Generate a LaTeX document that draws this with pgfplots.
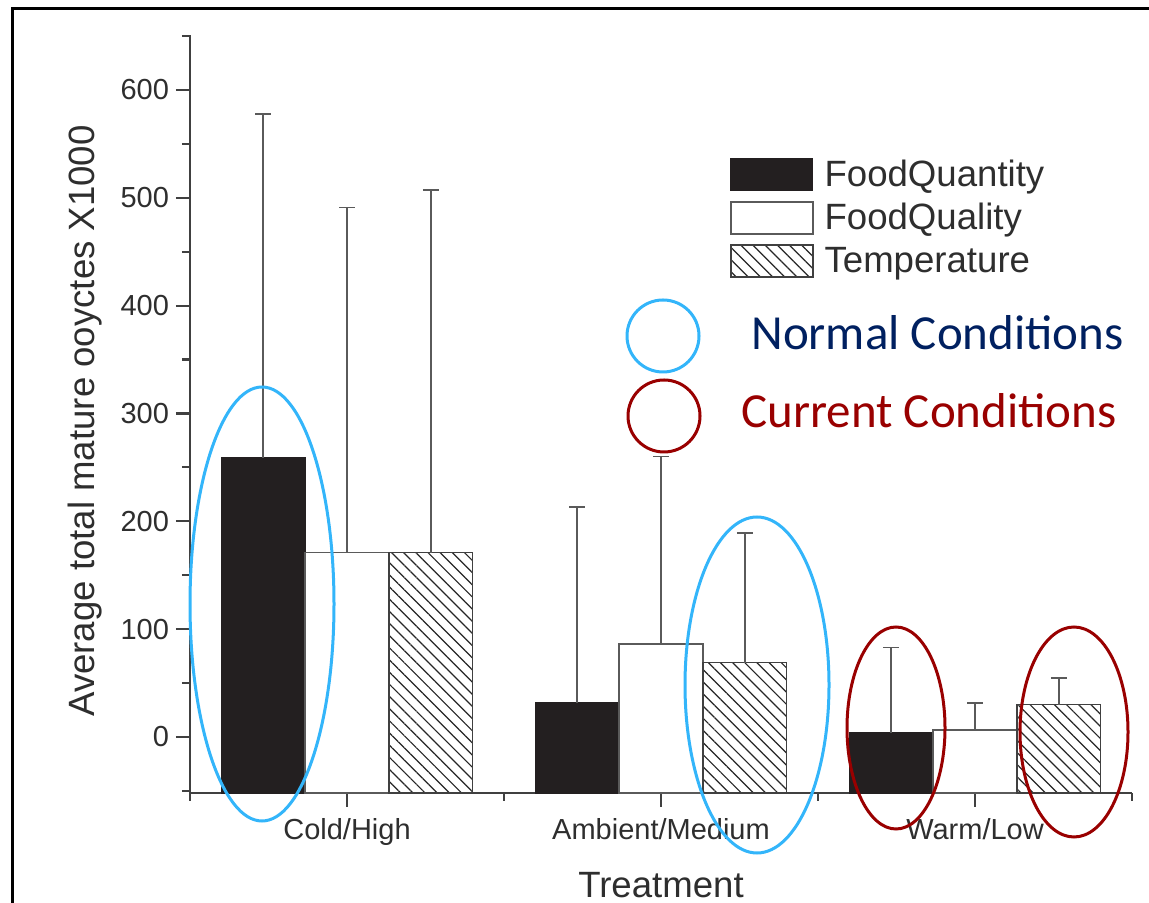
\documentclass[border=0pt]{standalone}
\usepackage{fontspec}
\setmainfont{Liberation Sans}
\newfontfamily\calibri{Carlito}
\usepackage{pgfplots}
\pgfplotsset{compat=1.18}
\usetikzlibrary{patterns.meta}
\definecolor{axgray}{HTML}{404040}
\definecolor{errgray}{HTML}{5A5A5A}
\definecolor{barblack}{HTML}{231F20}
\definecolor{ellblue}{HTML}{33B5FA}
\definecolor{ellred}{HTML}{990000}
\definecolor{navy}{HTML}{002060}
\definecolor{txtgray}{HTML}{2E2E2E}
\begin{document}
\begin{tikzpicture}
\useasboundingbox (0,0) rectangle (574.5pt,451.5pt);
\begin{axis}[
  at={(95pt,55pt)}, anchor=south west,
  scale only axis, width=471pt, height=379pt,
  y coord trafo/.code={\pgfmathparse{#1+52}},
  y coord inv trafo/.code={\pgfmathparse{#1-52}},
  xmin=0.5, xmax=3.5, ymin=-52, ymax=651,
  axis x line*=bottom, axis y line*=left,
  axis line style={axgray, line width=1.1pt},
  ybar=0pt, bar width=0.267,
  xtick={1,2,3}, xticklabels={Cold/High,Ambient/Medium,Warm/Low},
  minor xtick={0.5,1.5,2.5,3.5},
  ytick={0,100,200,300,400,500,600},
  yticklabels={0,100,200,300,400,500,600},
  minor ytick={-50,50,150,250,350,450,550,650},
  tick align=outside,
  major tick length=7pt, minor tick length=4pt,
  every tick/.style={axgray, line width=1.1pt},
  tick label style={font=\fontsize{14.5}{16}\selectfont, text=txtgray},
  xticklabel style={yshift=-2pt},
  /pgf/number format/assume math mode=true,
  ylabel={Average total mature ooyctes X1000},
  ylabel style={at={(axis description cs:-0.111,0.4908)}, anchor=center, font=\fontsize{18.3}{21}\selectfont, text=txtgray},
  xlabel={Treatment},
  xlabel style={at={(axis description cs:0.5,-0.1214)}, anchor=center, font=\fontsize{18.3}{21}\selectfont, text=txtgray},
  legend style={at={(rel axis cs:0.573,0.841)}, anchor=north west, draw=none, fill=none,
    font=\fontsize{18.3}{21}\selectfont, text=txtgray, row sep=3pt, inner sep=0pt,
    nodes={inner xsep=5.5pt, inner ysep=2pt}},
  legend cell align=left,
  mylegend/.style={legend image code/.code={\draw[##1] (0pt,-8pt) rectangle (41pt,8pt);}},
  clip=false,
]
\addplot[fill=barblack, draw=barblack, line width=0.6pt, mylegend,
  error bars/.cd, y dir=plus, y explicit,
  error bar style={errgray, line width=0.9pt},
  error mark options={rotate=90, errgray, line width=0.9pt, mark size=4pt}]
  coordinates {(1,259) +- (0,319) (2,31.5) +- (0,182) (3,4) +- (0,79)};
\addplot[fill=white, draw=errgray, line width=0.7pt, mylegend,
  error bars/.cd, y dir=plus, y explicit,
  error bar style={errgray, line width=0.9pt},
  error mark options={rotate=90, errgray, line width=0.9pt, mark size=4pt}]
  coordinates {(1,171) +- (0,320) (2,86) +- (0,174) (3,6.5) +- (0,25)};
\addplot[pattern={Lines[angle=-45,distance=4.3pt,line width=0.6pt]}, pattern color=black!85,
  draw=axgray, line width=0.7pt, mylegend,
  error bars/.cd, y dir=plus, y explicit,
  error bar style={errgray, line width=0.9pt},
  error mark options={rotate=90, errgray, line width=0.9pt, mark size=4pt}]
  coordinates {(1,171) +- (0,336) (2,69) +- (0,120) (3,30) +- (0,25)};
\legend{FoodQuantity,FoodQuality,Temperature}
\end{axis}
\begin{scope}[x=0.5pt,y=-0.5pt,yshift=451.5pt]
  \draw[black, line width=1.5pt] (12,903) -- (12,9) -- (1149,9);
  \draw[ellblue, line width=1.5pt] (262,604) ellipse [x radius=36pt, y radius=108.5pt];
  \draw[ellblue, line width=1.5pt] (757,685) ellipse [x radius=36pt, y radius=84pt];
  \draw[ellred, line width=1.5pt] (896,728) ellipse [x radius=24.5pt, y radius=50.5pt];
  \draw[ellred, line width=1.5pt] (1074,732) ellipse [x radius=27pt, y radius=52.5pt];
  \draw[ellblue, line width=1.5pt] (663,336) circle [radius=18pt];
  \draw[ellred, line width=1.5pt] (664,416) circle [radius=18pt];
  \node[anchor=base west, inner sep=0pt, text=navy, font=\calibri\fontsize{24.5}{28}\selectfont] at (751,350) {Normal Conditions};
  \node[anchor=base west, inner sep=0pt, text=ellred, font=\calibri\fontsize{24.5}{28}\selectfont] at (741,428) {Current Conditions};
\end{scope}
\end{tikzpicture}
\end{document}
